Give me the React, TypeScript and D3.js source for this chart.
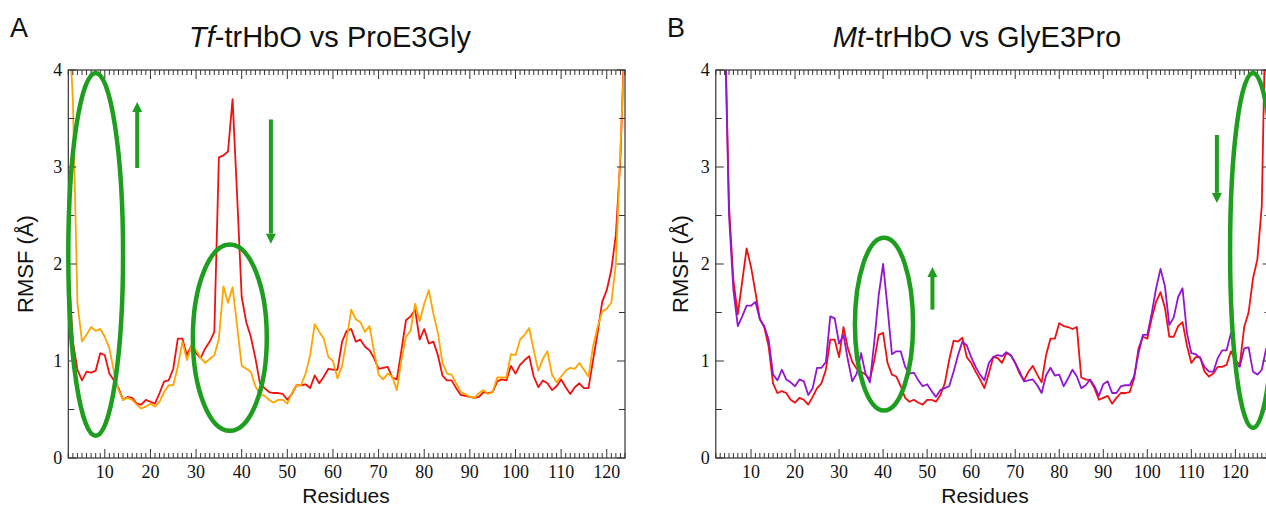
import React from "react";
import * as d3 from "d3";

// residue number of the first value in each series
const START_A = 2;
const START_B = 4;

// Panel A: Tf-trHbO (red) vs ProE3Gly mutant (orange), RMSF in Å
const tfWild = [
  2.0, 1.2, 0.91, 0.8, 0.89, 0.88, 0.9, 1.08, 1.06, 0.87,
  0.8, 0.72, 0.6, 0.63, 0.62, 0.56, 0.55, 0.6, 0.58, 0.56,
  0.67, 0.79, 0.8, 0.92, 1.23, 1.23, 1.06, 1.16, 1.08, 1.03,
  1.13, 1.2, 1.3, 3.1, 3.12, 3.16, 3.7, 2.7, 1.66, 1.4,
  1.25, 1.03, 0.77, 0.72, 0.68, 0.67, 0.67, 0.66, 0.6, 0.66,
  0.75, 0.75, 0.76, 0.72, 0.85, 0.77, 0.84, 0.92, 0.91, 0.91,
  1.2, 1.31, 1.33, 1.2, 1.22, 1.15, 1.11, 1.03, 0.92, 0.93,
  0.94, 0.83, 0.81, 1.11, 1.42, 1.46, 1.53, 1.22, 1.33, 1.18,
  1.2, 1.06, 0.85, 0.8, 0.8, 0.72, 0.65, 0.64, 0.63, 0.62,
  0.63, 0.68, 0.67, 0.68, 0.79, 0.81, 0.8, 0.95, 0.87, 0.96,
  1.01, 1.05, 0.84, 0.73, 0.8, 0.77, 0.7, 0.74, 0.81, 0.73,
  0.66, 0.73, 0.77, 0.72, 0.72, 1.01, 1.29, 1.61, 1.73, 1.94,
  2.3, 3.1, 4.5,
];
const tfProGly = [
  4.6, 3.7, 1.6, 1.2, 1.27, 1.35, 1.31, 1.33, 1.25, 1.13,
  0.89, 0.7, 0.6, 0.62, 0.6, 0.55, 0.51, 0.53, 0.56, 0.53,
  0.58, 0.68, 0.75, 0.75, 0.94, 1.2, 1.01, 1.16, 1.11, 1.03,
  0.98, 1.02, 1.06, 1.23, 1.77, 1.6, 1.76, 1.36, 0.95, 0.92,
  0.89, 0.74, 0.66, 0.64, 0.6, 0.57, 0.6, 0.6, 0.56, 0.67,
  0.75, 0.75, 0.87, 1.06, 1.38, 1.3, 1.23, 1.04, 1.0, 0.82,
  0.95, 1.22, 1.53, 1.43, 1.4, 1.3, 1.36, 1.1, 0.86, 0.81,
  0.87, 0.84, 0.7, 1.01, 1.25, 1.31, 1.59, 1.41, 1.59, 1.73,
  1.49, 1.29, 0.98, 0.87, 0.86, 0.77, 0.68, 0.66, 0.63, 0.62,
  0.67, 0.7, 0.66, 0.68, 0.83, 0.83, 0.83, 1.07, 1.06, 1.22,
  1.27, 1.34, 1.11, 0.9, 1.02, 1.1, 0.86, 0.78, 0.84, 0.9,
  0.93, 0.92, 0.98, 0.91, 0.84, 1.15, 1.35, 1.51, 1.54, 1.6,
  2.0, 3.2, 4.3,
];

// Panel B: Mt-trHbO (red) vs GlyE3Pro mutant (purple)
const mtWild = [
  4.6, 2.6, 1.83, 1.48, 1.82, 2.16, 1.97, 1.71, 1.43, 1.35,
  1.15, 0.77, 0.67, 0.69, 0.67, 0.6, 0.57, 0.62, 0.6, 0.55,
  0.63, 0.72, 0.77, 0.91, 1.22, 1.22, 1.04, 1.35, 1.13, 0.99,
  0.92, 0.89, 0.86, 0.81, 1.01, 1.27, 1.29, 0.98, 0.86, 0.84,
  0.74, 0.62, 0.58, 0.6, 0.57, 0.55, 0.6, 0.6, 0.58, 0.65,
  0.77, 1.01, 1.21, 1.2, 1.24, 1.04, 0.98, 0.89, 0.81, 0.72,
  0.87, 1.04, 1.03, 0.98, 1.08, 1.06, 0.98, 0.87, 0.8, 0.89,
  0.95, 0.86, 0.78, 1.06, 1.23, 1.23, 1.39, 1.36, 1.35, 1.33,
  1.35, 0.83, 0.81, 0.8, 0.72, 0.6, 0.62, 0.64, 0.56, 0.62,
  0.67, 0.67, 0.68, 0.82, 1.13, 1.25, 1.23, 1.44, 1.61, 1.71,
  1.55, 1.25, 1.25, 1.36, 1.4, 1.16, 0.98, 1.04, 1.04, 0.89,
  0.84, 0.87, 0.94, 0.94, 0.96, 1.1, 1.01, 0.96, 1.35, 1.5,
  1.85, 2.05, 2.6, 5.0,
];
const mtGlyPro = [
  4.6, 2.5, 1.73, 1.36, 1.46, 1.57, 1.57, 1.61, 1.43, 1.36,
  1.22, 0.86, 0.8, 0.91, 0.81, 0.78, 0.74, 0.81, 0.79, 0.65,
  0.72, 0.93, 0.93, 0.99, 1.46, 1.44, 1.18, 1.27, 1.01, 0.79,
  0.87, 1.08, 0.87, 0.78, 1.2, 1.68, 2.0, 1.55, 1.07, 1.1,
  1.1, 0.94, 0.87, 0.88, 0.8, 0.74, 0.76, 0.69, 0.63, 0.7,
  0.72, 0.74, 0.89, 1.06, 1.2, 1.16, 1.04, 0.94, 0.86, 0.8,
  0.98, 1.04, 1.06, 1.05, 1.09, 1.06, 0.98, 0.89, 0.79, 0.8,
  0.81, 0.75, 0.67, 0.85, 0.93, 0.85, 0.86, 0.74, 0.82, 0.91,
  0.84, 0.72, 0.75, 0.81, 0.74, 0.64, 0.76, 0.79, 0.67, 0.67,
  0.74, 0.75, 0.75, 0.84, 1.08, 1.27, 1.27, 1.49, 1.75, 1.95,
  1.77, 1.37, 1.45, 1.66, 1.75, 1.29, 1.08, 1.07, 1.03, 0.94,
  0.89, 0.89, 1.03, 1.11, 1.11, 1.29, 0.97, 0.94, 1.13, 1.14,
  0.89, 0.86, 0.91, 1.13,
];

const xTickLabels = [10, 20, 30, 40, 50, 60, 70, 80, 90, 100, 110, 120];
const yTickLabels = [0, 1, 2, 3, 4];

// green annotations, in residue / RMSF units
const ellipsesA = [
  { res: 8, val: 2.1, rRes: 6.0, rVal: 1.87 },
  { res: 37.4, val: 1.24, rRes: 8.1, rVal: 0.96 },
];
const arrowsA = [
  { res: 17.1, from: 2.99, to: 3.67 },
  { res: 46.4, from: 3.49, to: 2.21 },
];
const ellipsesB = [
  { res: 40.2, val: 1.38, rRes: 6.6, rVal: 0.89 },
  { res: 124, val: 2.14, rRes: 5.2, rVal: 1.83 },
];
const arrowsB = [
  { res: 51.2, from: 1.53, to: 1.97 },
  { res: 115.8, from: 3.33, to: 2.63 },
];

const W = 1266;
const H = 507;
const TOP = 70;
const BOTTOM = 458;
const GREEN = "#1e9e1e";
const SANS = "'Liberation Sans', Arial, sans-serif";
const SERIF = "'Liberation Serif', 'Times New Roman', serif";

function Panel({ id, letter, letterX, left, right, domain, title, titleX, yLabelX, xLabelX, start, base, other, otherColor, ellipses, arrows }) {
  const x = d3.scaleLinear().domain(domain).range([left, right]);
  const y = d3.scaleLinear().domain([0, 4]).range([BOTTOM, TOP]);
  const line = d3.line<number>().x((_, i) => x(start + i)).y(d => y(d));
  const residues = d3.range(domain[0], domain[1] + 1);
  const yMinor = d3.range(0, 4.01, 0.5);

  return (
    <g>
      <defs>
        <clipPath id={`clip-${id}`}>
          <rect x={left} y={TOP} width={right - left} height={BOTTOM - TOP} />
        </clipPath>
      </defs>

      <text x={letterX} y={37} fontFamily={SANS} fontSize={27} fill="#111">{letter}</text>
      <text x={titleX} y={47} textAnchor="middle" fontFamily={SANS} fontSize={29} fill="#111">
        <tspan fontStyle="italic">{title[0]}</tspan>{title[1]}
      </text>

      <g clipPath={`url(#clip-${id})`}>
        <path d={line(base)} fill="none" stroke="#f01010" strokeWidth={1.8} strokeLinejoin="round" />
        <path d={line(other)} fill="none" stroke={otherColor} strokeWidth={1.8} strokeLinejoin="round" />
      </g>

      {/* x ticks, bottom and top, pointing inward */}
      {residues.map(r => {
        const len = r % 10 === 0 ? 9 : 5;
        return (
          <g key={`xt${r}`} stroke="#333" strokeWidth={1}>
            <line x1={x(r)} x2={x(r)} y1={BOTTOM} y2={BOTTOM - len} />
            <line x1={x(r)} x2={x(r)} y1={TOP} y2={TOP + len} />
          </g>
        );
      })}
      {yMinor.map(v => {
        const len = Number.isInteger(v) ? 8 : 6;
        return (
          <g key={`yt${v}`} stroke="#333" strokeWidth={1}>
            <line x1={left} x2={left + len} y1={y(v)} y2={y(v)} />
            <line x1={right} x2={right - len} y1={y(v)} y2={y(v)} />
          </g>
        );
      })}
      <rect x={left} y={TOP} width={right - left} height={BOTTOM - TOP} fill="none" stroke="#333" strokeWidth={1.2} />

      {xTickLabels.map(t => (
        <text key={`xl${t}`} x={x(t)} y={BOTTOM + 20} textAnchor="middle" fontFamily={SERIF} fontSize={18} fill="#111">{t}</text>
      ))}
      {yTickLabels.map(t => (
        <text key={`yl${t}`} x={left - 6} y={y(t)} textAnchor="end" dominantBaseline="central" fontFamily={SERIF} fontSize={18} fill="#111">{t}</text>
      ))}

      <text x={xLabelX} y={503} textAnchor="middle" fontFamily={SANS} fontSize={21} fill="#111">Residues</text>
      <text transform={`translate(${yLabelX},${(TOP + BOTTOM) / 2}) rotate(-90)`} textAnchor="middle" dominantBaseline="central" fontFamily={SANS} fontSize={22} fill="#111">RMSF (Å)</text>

      {ellipses.map((e, i) => (
        <ellipse key={`el${i}`} cx={x(e.res)} cy={y(e.val)}
          rx={x(e.res + e.rRes) - x(e.res)} ry={y(e.val - e.rVal) - y(e.val)}
          fill="none" stroke={GREEN} strokeWidth={4.5} />
      ))}
      {arrows.map((a, i) => {
        const ax = x(a.res);
        const y0 = y(a.from);
        const y1 = y(a.to);
        const dir = y1 < y0 ? -1 : 1;
        const head = 10;
        return (
          <g key={`ar${i}`} fill={GREEN} stroke="none">
            <rect x={ax - 2} y={Math.min(y0, y1 - dir * head)} width={4} height={Math.abs(y1 - dir * head - y0)} />
            <path d={`M${ax},${y1} L${ax - 5},${y1 - dir * head} L${ax + 5},${y1 - dir * head} Z`} />
          </g>
        );
      })}
    </g>
  );
}

export default function App() {
  return (
    <svg width={W} height={H} style={{ position: "absolute", left: 0, top: 0, background: "#fff" }}>
      <rect width={W} height={H} fill="#fff" />
      <Panel id="a" letter="A" letterX={10} left={68.3} right={625} domain={[2, 124]}
        title={["Tf", "-trHbO vs ProE3Gly"]} titleX={330} yLabelX={25} xLabelX={346}
        start={START_A} base={tfWild} other={tfProGly} otherColor="#ffa500"
        ellipses={ellipsesA} arrows={arrowsA} />
      <Panel id="b" letter="B" letterX={667} left={715.8} right={1270.6} domain={[2, 128]}
        title={["Mt", "-trHbO vs GlyE3Pro"]} titleX={977} yLabelX={680} xLabelX={985}
        start={START_B} base={mtWild} other={mtGlyPro} otherColor="#9414d3"
        ellipses={ellipsesB} arrows={arrowsB} />
    </svg>
  );
}
